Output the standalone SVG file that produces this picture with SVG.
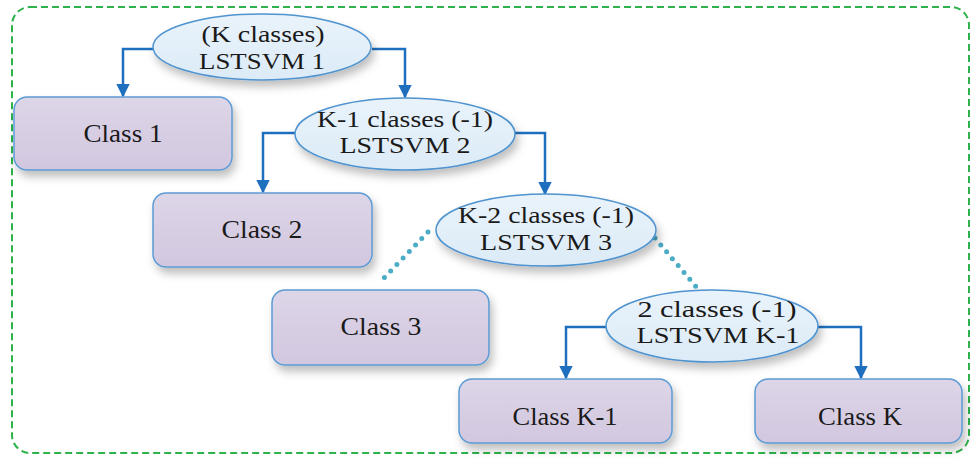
<svg xmlns="http://www.w3.org/2000/svg" width="977" height="460" viewBox="0 0 977 460">
  <defs>
    <linearGradient id="boxFill" x1="0" y1="0" x2="0" y2="1">
      <stop offset="0" stop-color="#ddd5e8"/>
      <stop offset="1" stop-color="#d2c7df"/>
    </linearGradient>
    <linearGradient id="ovalFill" x1="0" y1="0" x2="0" y2="1">
      <stop offset="0" stop-color="#e9f3fb"/>
      <stop offset="1" stop-color="#dcebf7"/>
    </linearGradient>
    <filter id="shadow" x="-10%" y="-10%" width="125%" height="140%">
      <feDropShadow dx="3" dy="6" stdDeviation="4" flood-color="#000" flood-opacity="0.25"/>
    </filter>
    <marker id="arrow" viewBox="0 0 10 10" refX="9" refY="5" markerWidth="5.5" markerHeight="5.5" orient="auto" markerUnits="strokeWidth">
      <path d="M0,0 L10,5 L0,10 z" fill="#1f6fbf"/>
    </marker>
    <style>
      .box { fill: url(#boxFill); stroke: #5b9bd5; stroke-width: 1.5; filter: url(#shadow); }
      .oval { fill: url(#ovalFill); stroke: #4f93cf; stroke-width: 1.5; filter: url(#shadow); }
      .label { fill: #1a1a1a; text-anchor: middle; }
      .oval-label { font-size: 22.5px; }
      .box-label { font-size: 25px; }
      .link { fill: none; stroke: #1f6fbf; stroke-width: 2.5; marker-end: url(#arrow); }
      .dots { fill: none; stroke: #4bacc6; stroke-width: 5; stroke-linecap: round; stroke-dasharray: 0 9; }
      .frame { fill: none; stroke: #2db34a; stroke-width: 2; stroke-dasharray: 7 4; }
    </style>
  </defs>

  <rect class="frame" x="12" y="7" width="957" height="446" rx="18"/>

  <!-- connectors -->
  <g id="connectors">
    <path class="link" d="M153,49 H123 V96"/>
    <path class="link" d="M372,49 H405 V97"/>
    <path class="link" d="M295,133 H263 V192"/>
    <path class="link" d="M515,133 H545 V194"/>
    <path class="dots" d="M428,232 L383,279"/>
    <path class="dots" d="M655,238 L698,289"/>
    <path class="link" d="M606,327 H566 V378"/>
    <path class="link" d="M818,327 H861 V378"/>
  </g>

  <g font-family="'Liberation Serif', 'Tinos', 'DejaVu Serif', serif">
    <!-- classifiers -->
    <g id="svm1">
      <ellipse class="oval" cx="262" cy="47" rx="109" ry="33"/>
      <text class="label oval-label" x="263" y="42" textLength="123" lengthAdjust="spacingAndGlyphs">(K classes)</text>
      <text class="label oval-label" x="262" y="69" textLength="126" lengthAdjust="spacingAndGlyphs">LSTSVM 1</text>
    </g>
    <g id="svm2">
      <ellipse class="oval" cx="405" cy="134" rx="110" ry="36"/>
      <text class="label oval-label" x="405" y="127" textLength="176" lengthAdjust="spacingAndGlyphs">K-1 classes (-1)</text>
      <text class="label oval-label" x="405" y="153" textLength="131" lengthAdjust="spacingAndGlyphs">LSTSVM 2</text>
    </g>
    <g id="svm3">
      <ellipse class="oval" cx="546" cy="230" rx="110" ry="36"/>
      <text class="label oval-label" x="546" y="223" textLength="176" lengthAdjust="spacingAndGlyphs">K-2 classes (-1)</text>
      <text class="label oval-label" x="546" y="250" textLength="132" lengthAdjust="spacingAndGlyphs">LSTSVM 3</text>
    </g>
    <g id="svmK1">
      <ellipse class="oval" cx="712" cy="326" rx="106" ry="36"/>
      <text class="label oval-label" x="717" y="317" textLength="159" lengthAdjust="spacingAndGlyphs">2 classes (-1)</text>
      <text class="label oval-label" x="718" y="343" textLength="163" lengthAdjust="spacingAndGlyphs">LSTSVM K-1</text>
    </g>

    <!-- class outputs -->
    <g id="class1">
      <rect class="box" x="14" y="97" width="218" height="73" rx="13"/>
      <text class="label box-label" x="123" y="142" textLength="79" lengthAdjust="spacingAndGlyphs">Class 1</text>
    </g>
    <g id="class2">
      <rect class="box" x="153" y="193" width="219" height="74" rx="13"/>
      <text class="label box-label" x="262" y="238" textLength="81" lengthAdjust="spacingAndGlyphs">Class 2</text>
    </g>
    <g id="class3">
      <rect class="box" x="272" y="290" width="217" height="75" rx="13"/>
      <text class="label box-label" x="381" y="335" textLength="81" lengthAdjust="spacingAndGlyphs">Class 3</text>
    </g>
    <g id="classK1">
      <rect class="box" x="459" y="379" width="213" height="64" rx="13"/>
      <text class="label box-label" x="565" y="425" textLength="105" lengthAdjust="spacingAndGlyphs">Class K-1</text>
    </g>
    <g id="classK">
      <rect class="box" x="755" y="379" width="207" height="64" rx="13"/>
      <text class="label box-label" x="860" y="425" textLength="84" lengthAdjust="spacingAndGlyphs">Class K</text>
    </g>
  </g>
</svg>
